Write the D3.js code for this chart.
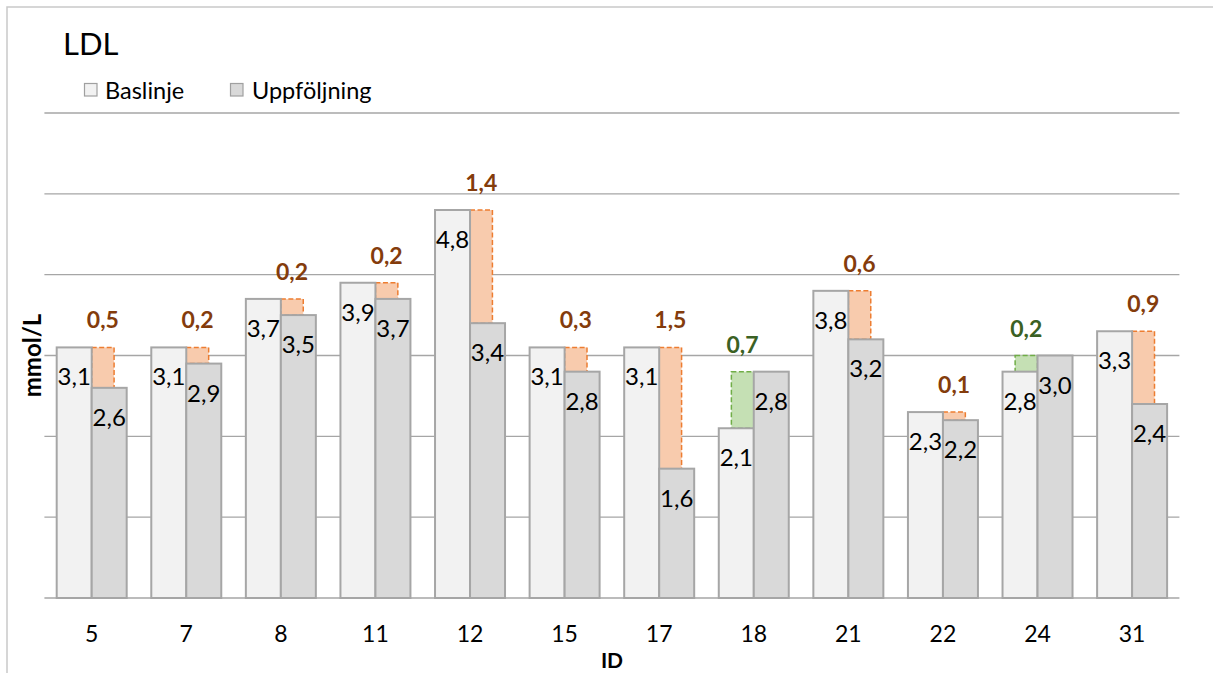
<!DOCTYPE html>
<html>
<head>
<meta charset="utf-8">
<script src="https://cdn.jsdelivr.net/npm/d3@7"></script>
<style>
  html, body { margin: 0; padding: 0; background: #fff; }
  svg { display: block; font-family: Lato, "Open Sans", sans-serif; }
</style>
</head>
<body>
<svg id="chart" width="1213" height="673"></svg>
<script>
const ids = ["5", "7", "8", "11", "12", "15", "17", "18", "21", "22", "24", "31"];
const baseline = [3.1, 3.1, 3.7, 3.9, 4.8, 3.1, 3.1, 2.1, 3.8, 2.3, 2.8, 3.3];
const followup = [2.6, 2.9, 3.5, 3.7, 3.4, 2.8, 1.6, 2.8, 3.2, 2.2, 3.0, 2.4];
const diffLabels = [0.5, 0.2, 0.2, 0.2, 1.4, 0.3, 1.5, 0.7, 0.6, 0.1, 0.2, 0.9];
const yTicks = [0, 1, 2, 3, 4, 5, 6];
const seriesNames = ["Baslinje", "Uppföljning"];

const svg = d3.select("#chart");
const fmt = v => d3.format(".1f")(v).replace(".", ",");

const x = d3.scaleBand().domain(ids).range([44.4, 1179.4]).padding(0);
const y = d3.scaleLinear().domain([0, 6]).range([598, 113]);
const bw = x.bandwidth();
const barW = bw * 0.37;
const diffW = barW * 0.64;

// outer frame
svg.append("rect").attr("x", 7).attr("y", 7).attr("width", 1240).attr("height", 700)
  .attr("fill", "none").attr("stroke", "#c9c9c9").attr("stroke-width", 1.5);

// gridlines
svg.append("g").selectAll("line").data(yTicks).join("line")
  .attr("x1", x.range()[0]).attr("x2", x.range()[1])
  .attr("y1", d => y(d)).attr("y2", d => y(d))
  .attr("stroke", "#a6a6a6").attr("stroke-width", 1.3);

const data = ids.map((id, i) => ({ id, b: baseline[i], f: followup[i], d: diffLabels[i] }));

// difference bars (behind)
const dg = svg.append("g");
data.forEach(d => {
  const c = x(d.id) + bw / 2;
  if (d.b >= d.f) {
    dg.append("rect").attr("x", c).attr("y", y(d.b)).attr("width", diffW)
      .attr("height", y(d.f) - y(d.b))
      .attr("fill", "#f8cbad").attr("stroke", "#ed7d31").attr("stroke-width", 1.5)
      .attr("stroke-dasharray", "5,2.5");
  } else {
    dg.append("rect").attr("x", c - diffW).attr("y", y(d.f)).attr("width", diffW)
      .attr("height", y(d.b) - y(d.f))
      .attr("fill", "#c5e0b4").attr("stroke", "#70ad47").attr("stroke-width", 1.5)
      .attr("stroke-dasharray", "5,2.5");
  }
});

// main bars
const bg = svg.append("g");
bg.selectAll("rect.b").data(data).join("rect").attr("class", "b")
  .attr("x", d => x(d.id) + bw / 2 - barW).attr("y", d => y(d.b))
  .attr("width", barW).attr("height", d => y(0) - y(d.b))
  .attr("fill", "#f2f2f2").attr("stroke", "#a6a6a6").attr("stroke-width", 2);
bg.selectAll("rect.f").data(data).join("rect").attr("class", "f")
  .attr("x", d => x(d.id) + bw / 2).attr("y", d => y(d.f))
  .attr("width", barW).attr("height", d => y(0) - y(d.f))
  .attr("fill", "#d9d9d9").attr("stroke", "#a6a6a6").attr("stroke-width", 2);

// value labels
const lg = svg.append("g").attr("font-size", 24).attr("fill", "#000").attr("text-anchor", "middle");
lg.selectAll("text.b").data(data).join("text").attr("class", "b")
  .attr("x", d => x(d.id) + bw / 2 - barW / 2).attr("y", d => y(d.b) + 38)
  .text(d => fmt(d.b));
lg.selectAll("text.f").data(data).join("text").attr("class", "f")
  .attr("x", d => x(d.id) + bw / 2 + barW / 2).attr("y", d => y(d.f) + 38)
  .text(d => fmt(d.f));

// diff labels
svg.append("g").attr("font-size", 23).attr("font-weight", "bold").attr("text-anchor", "middle")
  .selectAll("text").data(data).join("text")
  .attr("x", d => d.b >= d.f ? x(d.id) + bw / 2 + diffW / 2 : x(d.id) + bw / 2 - diffW / 2)
  .attr("y", d => y(Math.max(d.b, d.f)) - 19)
  .attr("fill", d => d.b >= d.f ? "#843c0c" : "#3b6124")
  .text(d => fmt(d.d));

// x axis ticks
const xa = svg.append("g").attr("transform", `translate(0,${y(0)})`)
  .call(d3.axisBottom(x).tickSize(0).tickPadding(0));
xa.select(".domain").remove();
xa.selectAll("text").attr("font-family", "Lato, 'Open Sans', sans-serif").attr("font-size", 23)
  .attr("fill", "#000").attr("dy", 0).attr("y", 43.5);

// axis titles
svg.append("text").attr("x", 612).attr("y", 668).attr("text-anchor", "middle")
  .attr("font-size", 21).attr("font-weight", "bold").text("ID");
svg.append("text").attr("transform", "translate(40.5,355.5) rotate(-90)").attr("text-anchor", "middle")
  .attr("font-size", 24).attr("font-weight", "bold").text("mmol/L");

// title
svg.append("text").attr("x", 63).attr("y", 55).attr("font-size", 31).text("LDL");

// legend
const legend = [{ name: seriesNames[0], fill: "#f2f2f2", x: 84, tx: 105 },
                { name: seriesNames[1], fill: "#d9d9d9", x: 230, tx: 252 }];
const lgd = svg.append("g");
legend.forEach(l => {
  lgd.append("rect").attr("x", l.x + 0.5).attr("y", 83.5).attr("width", 12.5).attr("height", 12.5)
    .attr("fill", l.fill).attr("stroke", "#a0a0a0").attr("stroke-width", 1.2);
  lgd.append("text").attr("x", l.tx).attr("y", 98.5).attr("font-size", 23.5).text(l.name);
});
</script>
</body>
</html>
